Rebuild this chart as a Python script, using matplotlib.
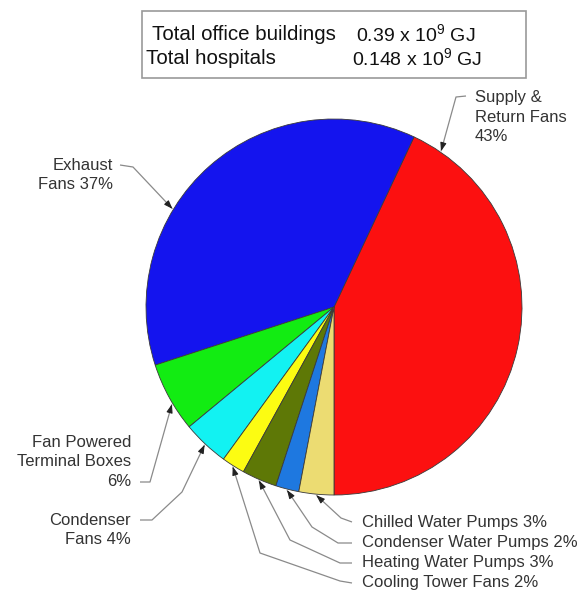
import numpy as np
import matplotlib
matplotlib.use("Agg")
import matplotlib.pyplot as plt

plt.rcParams["font.family"] = ["Liberation Sans", "DejaVu Sans"]
plt.rcParams["mathtext.default"] = "regular"

# pie data, counter-clockwise from the bottom
labels = ["Supply &\nReturn Fans\n43%", "Exhaust\nFans 37%",
          "Fan Powered\nTerminal Boxes\n6%", "Condenser\nFans 4%",
          "Cooling Tower Fans 2%", "Heating Water Pumps 3%",
          "Condenser Water Pumps 2%", "Chilled Water Pumps 3%"]
shares = [43, 37, 6, 4, 2, 3, 2, 3]
colors = ["#fc1010", "#1414ee", "#12ec12", "#12f2f2", "#fcfc12",
          "#5e7806", "#1e78e0", "#ecdc72"]

box_names = ["Total office buildings", "Total hospitals"]
box_values = ["0.39 x 10$^9$ GJ", "0.148 x 10$^9$ GJ"]

W, H = 587, 592


def P(x, y):
    # pixel (y down) -> data (y up)
    return (x, H - y)


fig = plt.figure(figsize=(W / 100, H / 100), dpi=100)
ax = fig.add_axes([0, 0, 1, 1])

cx, cy = P(334, 307)
R = 188
wedges, _ = ax.pie(shares, colors=colors, startangle=-90, counterclock=True,
                   center=(cx, cy), radius=R,
                   wedgeprops=dict(edgecolor="#3a3a3a", linewidth=0.6))
ax.set_xlim(0, W)
ax.set_ylim(0, H)
ax.set_aspect("equal")
ax.axis("off")

# label text position, alignment, leader polyline (pixels) and where on the wedge the arrow lands
label_pos = [(475, 117, "left"), (113, 175, "right"), (131, 462, "right"),
             (131, 530, "right"), (362, 582, "left"), (362, 563, "left"),
             (362, 543, "left"), (362, 522, "left")]
leaders = [[(466, 96), (456, 97)],
           [(120, 165), (133, 167)],
           [(140, 482), (150, 482)],
           [(140, 520), (152, 520), (182, 492)],
           [(352, 583), (340, 581), (260, 553)],
           [(352, 563), (340, 563), (290, 540)],
           [(352, 543), (338, 543), (312, 527)],
           [(352, 522), (341, 518)]]
tip_frac = [0.94, 0.63, 0.6, 0.5, 0.5, 0.5, 0.5, 0.5]

for w, lab, (tx, ty, ha), path, fr in zip(wedges, labels, label_pos, leaders, tip_frac):
    ang = np.deg2rad(w.theta1 + fr * (w.theta2 - w.theta1))
    tip = (cx + (R + 1) * np.cos(ang), cy + (R + 1) * np.sin(ang))
    pts = [P(*p) for p in path] + [tip]
    xs, ys = zip(*pts)
    ax.plot(xs, ys, color="#8a8a8a", lw=0.9, solid_capstyle="butt")
    # short dark arrow head at the tip
    dx, dy = tip[0] - pts[-2][0], tip[1] - pts[-2][1]
    n = np.hypot(dx, dy)
    start = (tip[0] - 7 * dx / n, tip[1] - 7 * dy / n)
    ax.annotate("", xy=tip, xytext=start,
                arrowprops=dict(arrowstyle="-|>,head_length=0.5,head_width=0.18",
                                color="#222222", lw=0.8, shrinkA=0, shrinkB=0))
    ax.text(*P(tx, ty), lab, ha=ha, va="center", fontsize=12,
            color="#333333", linespacing=1.38, multialignment=ha)

# totals box
box = plt.Rectangle(P(142, 78), 384, 67, fill=False, edgecolor="#999999", lw=1.2)
ax.add_patch(box)
ax.text(*P(152, 34), box_names[0], ha="left", va="center", fontsize=14.8, color="#111111")
ax.text(*P(146, 58), box_names[1], ha="left", va="center", fontsize=14.8, color="#111111")
ax.text(*P(356, 34), box_values[0], ha="left", va="center", fontsize=14.0, color="#111111")
ax.text(*P(352, 58), box_values[1], ha="left", va="center", fontsize=14.0, color="#111111")

fig.savefig("out.png", dpi=100)
